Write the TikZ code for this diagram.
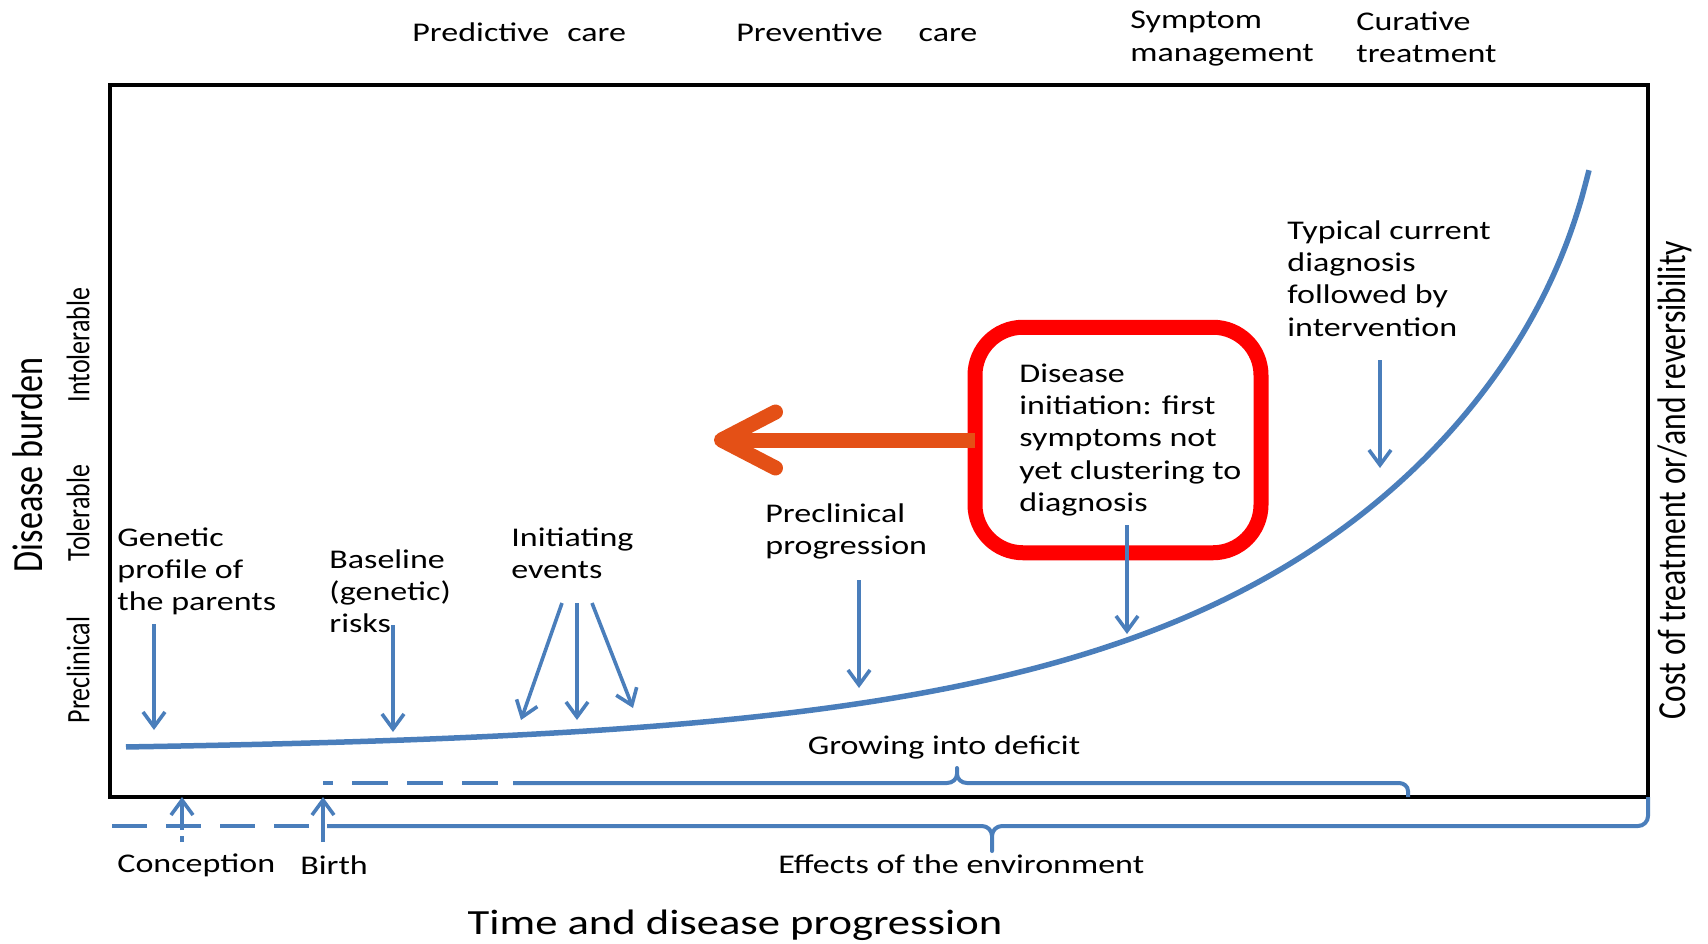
\documentclass[tikz,border=0pt]{standalone}
\usepackage{fontspec}
\setmainfont{Carlito}[FakeStretch=1.26]
\newfontfamily\plaincarlito{Carlito}
\usetikzlibrary{arrows.meta,positioning}
\definecolor{curveblue}{RGB}{74,126,187}
\definecolor{pushorange}{RGB}{228,80,22}
\newcommand\labelsize{\fontsize{13.5}{16.2}\selectfont}

\begin{document}
\begin{tikzpicture}[x=0.5pt,y=-0.5pt,
    lbl/.style={font=\labelsize,align=left,inner sep=0pt,anchor=north west},
    tag/.style={font=\labelsize,inner sep=0pt},
    side/.style={font=\plaincarlito\fontsize{13}{15}\selectfont,inner sep=0pt,
      rotate=90,yscale=1.26,transform shape},
    pin/.style={curveblue,line width=1.8pt,-{Straight Barb[length=7.5pt,width=11pt]}},
    brace/.style={curveblue,line width=2pt,line join=round}]
  \useasboundingbox (0,0) rectangle (1708,943);
  \node[draw,line width=2pt,minimum width=769pt,minimum height=356pt,
    inner sep=0pt,outer sep=0pt] (frame) at (879,441) {};

  % kinds of care
  \node[lbl] (predictive) at (412,22) {Predictive\hspace{9pt}care};
  \node[lbl] (preventive) at (736,22) {Preventive\hspace{18pt}care};
  \node[lbl] (symptom) at (1130,11) {Symptom\\management};
  \node[lbl] (curative) at (1356,11) {Curative\\treatment};

  % axis titles
  \node[side,font=\plaincarlito\fontsize{17.1}{20}\selectfont] (burden) at (28,465) {Disease burden};
  \node[side] (intolerable) at (78,345) {Intolerable};
  \node[side] (tolerable) at (78,513) {Tolerable};
  \node[side] (preclinical) at (78,670) {Preclinical};
  \node[side,font=\plaincarlito\fontsize{15.8}{18}\selectfont] (cost) at (1675,480)
    {Cost of treatment or/and reversibility};
  \node[tag,font=\fontsize{17.7}{20}\selectfont] (time) at (735,925) {Time and disease progression};

  % disease course
  \draw[curveblue,line width=2.75pt,domain=126:1589,samples=200,smooth,variable=\x]
    plot({\x},{747-102*exp(0.0032*(\x-1127))-7000/(1640-\x)+8.7});

  \node[lbl] (genetic) at (117,527) {Genetic\\profile of\\the parents};
  \coordinate (genA) at (154,624);
  \coordinate (genB) at (154,730);
  \draw[pin] (genA) -- (genB);

  \node[lbl] (baseline) at (329,549) {Baseline\\(genetic)\\risks};
  \coordinate (baseA) at (393,625);
  \coordinate (baseB) at (393,732);
  \draw[pin] (baseA) -- (baseB);

  \node[lbl] (initiating) at (511,527) {Initiating\\events};
  \foreach \n/\s/\e/\y in {a/562/521/720, b/577/577/720, c/592/633/708} {
    \coordinate (init-\n) at (\s,603);
    \coordinate (hit-\n) at (\e,\y);
    \draw[pin] (init-\n) -- (hit-\n);
  }

  \node[lbl] (progression) at (765,503) {Preclinical\\progression};
  \coordinate (progA) at (859,580);
  \coordinate (progB) at (859,688);
  \draw[pin] (progA) -- (progB);

  \node[lbl] (typical) at (1287,220) {Typical current\\diagnosis\\followed by\\intervention};
  \coordinate (typA) at (1380,360);
  \coordinate (typB) at (1380,468);
  \draw[pin] (typA) -- (typB);

  % first symptoms
  \node[draw=red,line width=7.5pt,rounded corners=24pt,minimum width=143pt,
    minimum height=112.75pt,outer sep=0pt] (initbox) at (1118,440) {};
  \node[lbl,right=22pt of initbox.west] (initiation)
    {Disease\\initiation: first\\symptoms not\\yet clustering to\\diagnosis};
  \coordinate (initA) at (1127,525);
  \coordinate (initB) at (1127,634);
  \draw[pin] (initA) -- (initB);
  \coordinate (pushtip) at (714,440);
  \draw[pushorange,line width=7.5pt,-{Straight Barb[length=27pt,width=28pt,round]}]
    (initbox.west) -- (pushtip);

  % growing into deficit
  \node[tag] (growing) at (944,747) {Growing into deficit};
  \draw[brace,dash pattern=on 18pt off 9.5pt,dash phase=13pt] (323,783) -- (508,783);
  \draw[brace] (513,783) -- (947,783) to[out=0,in=-90] (957,774) -- (957,768)
    -- (957,774) to[out=-90,in=180] (967,783) -- (1399,783)
    to[out=0,in=90] (1408,791) -- (1408,797);

  % effects of the environment
  \draw[brace,dash pattern=on 17.5pt off 9.5pt] (112,826) -- (320,826);
  \draw[brace] (327,826) -- (982,826) to[out=0,in=90] (992,836) -- (992,851)
    -- (992,836) to[out=90,in=180] (1002,826) -- (1638,826)
    to[out=0,in=-90] (1648,816) -- (frame.south east);
  \coordinate (concA) at (182,842);
  \coordinate (birthA) at (323,842);
  \draw[pin,dash pattern=on 3pt off 3pt on 40pt] (concA) -- (concA |- frame.south);
  \draw[pin] (birthA) -- (birthA |- frame.south);
  \node[tag,anchor=west] (conception) at (117,865) {Conception};
  \node[tag,anchor=west] (birth) at (300,865) {Birth};
  \node[tag,anchor=west] (effects) at (778,864) {Effects of the environment};
\end{tikzpicture}
\end{document}
